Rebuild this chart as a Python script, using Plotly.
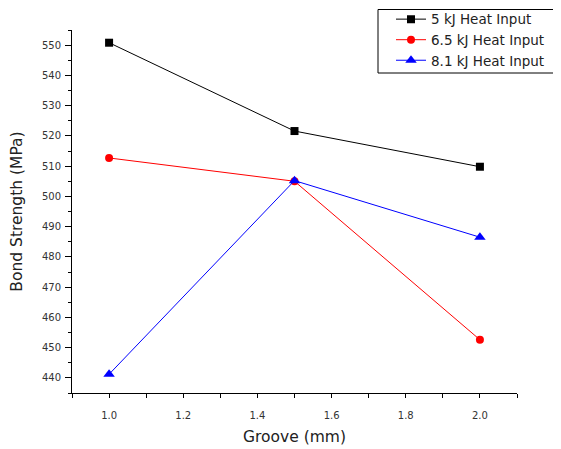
import plotly.graph_objects as go

groove = [1.0, 1.5, 2.0]
heat_5 = [550.8, 521.6, 509.8]
heat_65 = [512.7, 505.0, 452.6]
heat_81 = [441.2, 505.2, 486.5]
names = ["5 kJ Heat Input", "6.5 kJ Heat Input", "8.1 kJ Heat Input"]

FONT = "DejaVu Sans, Liberation Sans, Arial"

fig = go.Figure()
fig.add_trace(go.Scatter(x=groove, y=heat_5, name=names[0], mode="lines+markers",
                         line=dict(color="black", width=1),
                         marker=dict(symbol="square", size=8, color="black")))
fig.add_trace(go.Scatter(x=groove, y=heat_65, name=names[1], mode="lines+markers",
                         line=dict(color="red", width=1),
                         marker=dict(symbol="circle", size=8, color="red")))
fig.add_trace(go.Scatter(x=groove, y=heat_81, name=names[2], mode="lines+markers",
                         line=dict(color="blue", width=1),
                         marker=dict(symbol="triangle-up", size=10, color="blue")))

axis_font = dict(family=FONT, size=10, color="#333333")
# plot area spans screen x 72..517, y 30..393 (page body adds an 8px offset)
PW, PH = 445, 363
fig.add_shape(type="rect", xref="paper", yref="paper",
              x0=(378 - 72) / PW, x1=(555 - 72) / PW,
              y0=(393 - 73) / PH, y1=(393 - 9.5) / PH,
              line=dict(color="black", width=1), fillcolor="white", layer="above")
fig.update_layout(
    width=561, height=449,
    margin=dict(l=64, r=52, t=22, b=64, autoexpand=False),
    paper_bgcolor="white", plot_bgcolor="white",
    font=dict(family=FONT, color="#222222"),
    showlegend=True,
    legend=dict(x=(391 - 72) / PW, y=1.072, xanchor="left", yanchor="top",
                borderwidth=0, bgcolor="rgba(0,0,0,0)",
                font=dict(family=FONT, size=13.5, color="#222222"),
                tracegroupgap=0),
    xaxis=dict(range=[0.9, 2.1], tick0=1.0, dtick=0.2, tickformat=".1f",
               showline=True, linecolor="black", linewidth=1,
               ticks="outside", ticklen=4, tickcolor="black",
               minor=dict(dtick=0.1, tick0=0.9, ticks="outside", ticklen=4, tickcolor="black"),
               showgrid=False, zeroline=False, tickfont=axis_font, ticklabelstandoff=9,
               title=dict(text="Groove (mm)", font=dict(family=FONT, size=15.5, color="#222222"), standoff=11)),
    yaxis=dict(range=[435, 555], tick0=440, dtick=10,
               showline=True, linecolor="black", linewidth=1,
               ticks="outside", ticklen=6, tickcolor="black",
               minor=dict(dtick=5, tick0=435, ticks="outside", ticklen=3, tickcolor="black"),
               showgrid=False, zeroline=False, tickfont=axis_font, ticklabelstandoff=2,
               title=dict(text="Bond Strength (MPa)", font=dict(family=FONT, size=15.5, color="#222222"), standoff=16)),
)

fig.write_html("out.html")
